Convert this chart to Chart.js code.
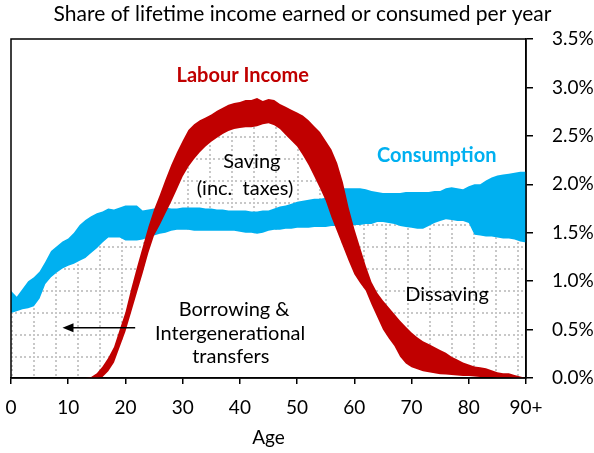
<!DOCTYPE html>
<html>
<head>
<meta charset="utf-8">
<script src="https://cdn.jsdelivr.net/npm/chart.js@4.4.0/dist/chart.umd.min.js"></script>
<style>
  body { margin: 0; background: #fff; }
  canvas { display: block; }
</style>
</head>
<body>
<canvas id="chart" width="594" height="453"></canvas>
<script>
const ages = [
  0, 1, 2, 3, 4, 5, 6, 7, 8, 9, 10, 11, 12, 13, 14, 15, 16, 17, 18, 19,
  20, 21, 22, 23, 24, 25, 26, 27, 28, 29, 30, 31, 32, 33, 34, 35, 36, 37, 38, 39,
  40, 41, 42, 43, 44, 45, 46, 47, 48, 49, 50, 51, 52, 53, 54, 55, 56, 57, 58, 59,
  60, 61, 62, 63, 64, 65, 66, 67, 68, 69, 70, 71, 72, 73, 74, 75, 76, 77, 78, 79,
  80, 81, 82, 83, 84, 85, 86, 87, 88, 89, 90
];

// labour income band (% of lifetime income), top and bottom edge
const incomeHigh = [
  0, 0, 0, 0, 0, 0, 0, 0, 0, 0, 0, 0, 0, 0, 0.01, 0.05, 0.12, 0.21, 0.32, 0.50,
  0.68, 0.92, 1.14, 1.35, 1.56, 1.74, 1.89, 2.05, 2.20, 2.33, 2.45, 2.56, 2.62, 2.66, 2.69, 2.72, 2.76, 2.79, 2.82, 2.84,
  2.85, 2.87, 2.87, 2.89, 2.86, 2.88, 2.87, 2.83, 2.80, 2.77, 2.74, 2.71, 2.66, 2.60, 2.54, 2.45, 2.36, 2.22, 2.02, 1.76,
  1.54, 1.35, 1.16, 0.99, 0.88, 0.80, 0.73, 0.66, 0.59, 0.53, 0.47, 0.42, 0.38, 0.35, 0.32, 0.29, 0.26, 0.22, 0.19, 0.16,
  0.14, 0.12, 0.11, 0.10, 0.08, 0.06, 0.05, 0.05, 0.03, 0.015, 0
];
const incomeLow = [
  0, 0, 0, 0, 0, 0, 0, 0, 0, 0, 0, 0, 0, 0, 0, 0, 0.01, 0.07, 0.16, 0.32,
  0.48, 0.68, 0.88, 1.08, 1.29, 1.47, 1.58, 1.70, 1.82, 1.95, 2.08, 2.18, 2.26, 2.33, 2.39, 2.44, 2.48, 2.52, 2.55, 2.57,
  2.58, 2.59, 2.59, 2.60, 2.62, 2.63, 2.61, 2.57, 2.51, 2.45, 2.39, 2.30, 2.20, 2.08, 1.96, 1.83, 1.66, 1.51, 1.36, 1.21,
  1.07, 0.98, 0.90, 0.76, 0.63, 0.50, 0.41, 0.33, 0.22, 0.15, 0.11, 0.09, 0.07, 0.06, 0.05, 0.04, 0.035, 0.03, 0.025, 0.02,
  0.02, 0.015, 0.01, 0.01, 0.01, 0.005, 0.005, 0.005, 0, 0, 0
];

// consumption band
const consHigh = [
  0.90, 0.84, 0.92, 1.00, 1.04, 1.10, 1.20, 1.31, 1.36, 1.41, 1.44, 1.50, 1.58, 1.63, 1.67, 1.70, 1.72, 1.75, 1.74, 1.76,
  1.78, 1.78, 1.78, 1.73, 1.74, 1.75, 1.76, 1.76, 1.75, 1.75, 1.76, 1.76, 1.76, 1.76, 1.75, 1.75, 1.74, 1.74, 1.73, 1.73,
  1.73, 1.73, 1.72, 1.72, 1.73, 1.73, 1.75, 1.77, 1.78, 1.80, 1.82, 1.83, 1.84, 1.85, 1.85, 1.86, 1.90, 1.94, 1.96, 1.96,
  1.96, 1.96, 1.95, 1.93, 1.92, 1.91, 1.91, 1.91, 1.91, 1.92, 1.92, 1.92, 1.92, 1.92, 1.93, 1.93, 1.96, 1.97, 1.96, 1.95,
  1.98, 2.00, 2.00, 2.04, 2.07, 2.09, 2.10, 2.11, 2.12, 2.13, 2.13
];
const consLow = [
  0.67, 0.69, 0.71, 0.72, 0.74, 0.82, 0.97, 1.04, 1.09, 1.13, 1.16, 1.18, 1.21, 1.24, 1.29, 1.34, 1.40, 1.45, 1.45, 1.45,
  1.42, 1.42, 1.42, 1.43, 1.45, 1.47, 1.49, 1.50, 1.52, 1.53, 1.53, 1.53, 1.52, 1.52, 1.52, 1.52, 1.52, 1.52, 1.52, 1.52,
  1.51, 1.50, 1.50, 1.49, 1.50, 1.52, 1.53, 1.53, 1.54, 1.54, 1.55, 1.55, 1.55, 1.56, 1.56, 1.56, 1.57, 1.57, 1.57, 1.57,
  1.58, 1.58, 1.59, 1.59, 1.61, 1.61, 1.60, 1.59, 1.57, 1.56, 1.55, 1.54, 1.54, 1.57, 1.60, 1.62, 1.64, 1.63, 1.62, 1.62,
  1.60, 1.48, 1.47, 1.46, 1.46, 1.45, 1.44, 1.44, 1.43, 1.41, 1.40
];

const xTickLabels = ['0', '10', '20', '30', '40', '50', '60', '70', '80', '90+'];
const yTickLabels = ['0.0%', '0.5%', '1.0%', '1.5%', '2.0%', '2.5%', '3.0%', '3.5%'];

const RED = '#C00000';
const BLUE = '#00B0F0';
const FONT = 'Lato, sans-serif';

// light grey dotted grid used for the gap between income and consumption
function dotGrid() {
  const size = 22;
  const c = document.createElement('canvas');
  c.width = size; c.height = size;
  const g = c.getContext('2d');
  g.fillStyle = '#c8c8c8';
  for (let i = 0; i < 5; i++) {
    const d = Math.round(i * 4.4);
    g.fillRect((11 + d) % size, 4, 2, 2);
    g.fillRect(11, (4 + d) % size, 2, 2);
  }
  return g.createPattern(c, 'repeat');
}

const toPts = (vals) => ages.map((a, i) => ({ x: a, y: vals[i] }));

function band(vals, fill, bg) {
  return {
    data: toPts(vals),
    fill: fill,
    backgroundColor: bg,
    borderColor: 'rgba(0,0,0,0)',
    borderWidth: 0,
    pointRadius: 0,
    tension: 0
  };
}

const notes = [
  { text: 'Labour Income', x: 40.5, y: 3.12, color: RED, bold: true },
  { text: 'Consumption', x: 74.4, y: 2.30, color: BLUE, bold: true },
  { text: 'Saving', x: 42.1, y: 2.23 },
  { text: '(inc.  taxes)', x: 40.9, y: 1.96 },
  { text: 'Borrowing &', x: 39.0, y: 0.71 },
  { text: 'Intergenerational', x: 38.3, y: 0.46 },
  { text: 'transfers', x: 38.4, y: 0.22 },
  { text: 'Dissaving', x: 76.2, y: 0.86 }
];

const extras = {
  id: 'extras',
  afterDatasetsDraw(chart) {
    const { ctx, chartArea: a, scales: { x, y } } = chart;
    ctx.save();
    ctx.strokeStyle = '#000';
    ctx.lineWidth = 1.5;
    ctx.strokeRect(a.left, a.top, a.right - a.left, a.bottom - a.top);

    ctx.textAlign = 'center';
    ctx.textBaseline = 'middle';
    notes.forEach(n => {
      ctx.font = (n.bold ? 'bold ' : '') + '20px ' + FONT;
      ctx.fillStyle = n.color || '#000';
      ctx.fillText(n.text, x.getPixelForValue(n.x), y.getPixelForValue(n.y));
    });

    // arrow pointing back toward childhood
    const ay = y.getPixelForValue(0.52);
    const x0 = x.getPixelForValue(21.7);
    const x1 = x.getPixelForValue(9.0);
    ctx.strokeStyle = '#000';
    ctx.lineWidth = 1.5;
    ctx.beginPath();
    ctx.moveTo(x0, ay);
    ctx.lineTo(x1 + 6, ay);
    ctx.stroke();
    ctx.fillStyle = '#000';
    ctx.beginPath();
    ctx.moveTo(x1, ay);
    ctx.lineTo(x1 + 11, ay - 4.5);
    ctx.lineTo(x1 + 11, ay + 4.5);
    ctx.closePath();
    ctx.fill();
    ctx.restore();
  }
};

const ctx = document.getElementById('chart').getContext('2d');

new Chart(ctx, {
  type: 'line',
  data: {
    datasets: [
      band(incomeHigh, '+1', RED),
      band(incomeLow, false, RED),
      band(consHigh, '+1', BLUE),
      band(consLow, { target: 1 }, dotGrid())
    ]
  },
  options: {
    responsive: false,
    animation: false,
    events: [],
    layout: { padding: { left: 11, right: 0, top: 0, bottom: 0 } },
    plugins: {
      legend: { display: false },
      tooltip: { enabled: false },
      title: {
        display: true,
        text: 'Share of lifetime income earned or consumed per year',
        color: '#000',
        font: { family: FONT, size: 21, weight: 'normal' },
        padding: { top: 1.5, bottom: 12.3 }
      }
    },
    scales: {
      x: {
        type: 'linear',
        min: 0,
        max: 90,
        afterBuildTicks: (s) => { s.ticks = xTickLabels.map((_, i) => ({ value: i * 10 })); },
        afterFit: (s) => {
          s.height = 75;
          s.paddingLeft = 0;
          s.paddingRight = 0;
        },
        ticks: {
          callback: (v, i) => xTickLabels[i],
          color: '#000',
          font: { family: FONT, size: 19 },
          padding: 12,
          maxRotation: 0,
          autoSkip: false
        },
        grid: { drawOnChartArea: false, drawTicks: true, tickLength: 6, color: '#000', lineWidth: 1.5 },
        border: { color: '#000', width: 1.5 },
        title: {
          display: true,
          text: 'Age',
          color: '#000',
          font: { family: FONT, size: 19 },
          padding: { top: 0, bottom: 4 }
        }
      },
      y: {
        position: 'right',
        min: 0,
        max: 3.5,
        afterBuildTicks: (s) => { s.ticks = yTickLabels.map((_, i) => ({ value: i * 0.5 })); },
        afterFit: (s) => { s.width = 68; },
        ticks: {
          callback: (v, i) => yTickLabels[i],
          color: '#000',
          font: { family: FONT, size: 19 },
          padding: 19
        },
        grid: { drawOnChartArea: false, drawTicks: true, tickLength: 7, color: '#000', lineWidth: 1.5 },
        border: { color: '#000', width: 1.5 }
      }
    }
  },
  plugins: [extras]
});
</script>
</body>
</html>
